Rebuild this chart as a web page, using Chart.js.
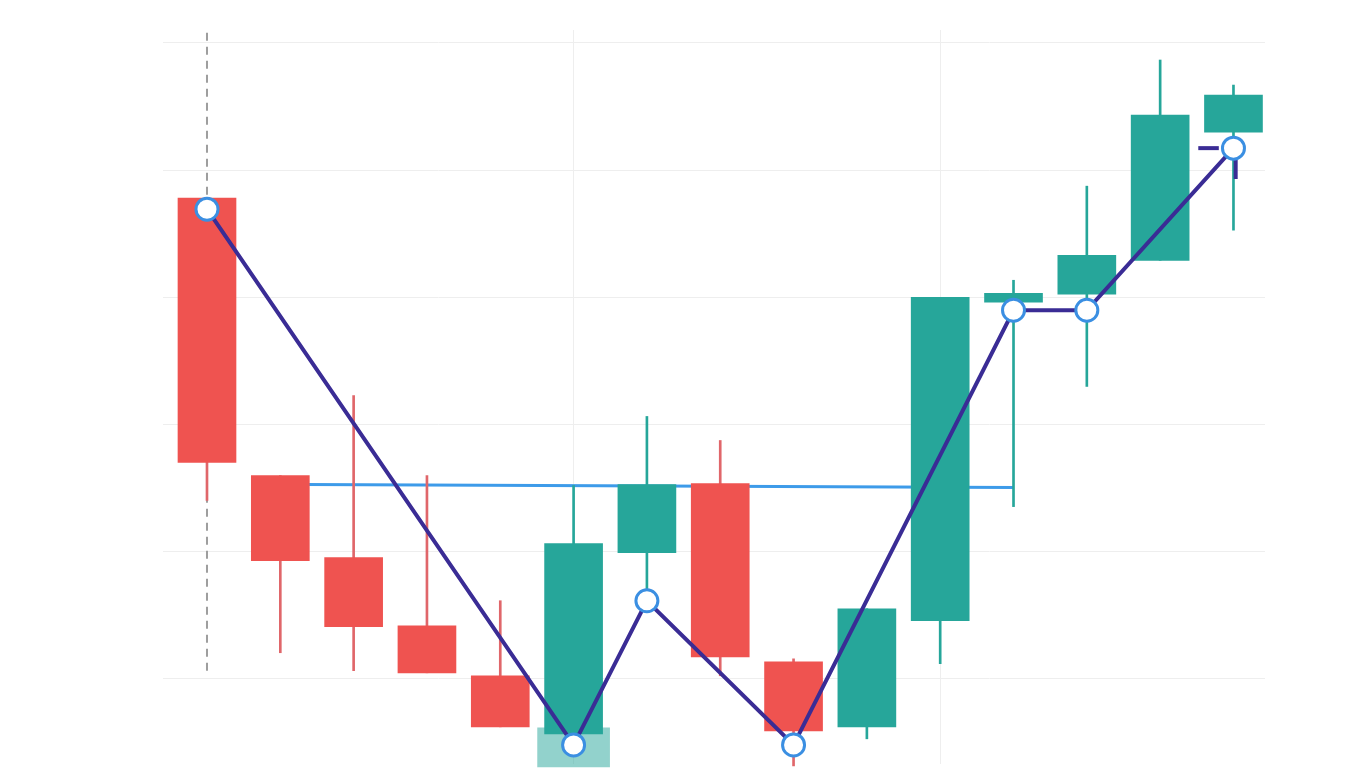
<!DOCTYPE html>
<html>
<head>
<meta charset="utf-8">
<script src="https://cdn.jsdelivr.net/npm/chart.js@4.4.1/dist/chart.umd.min.js"></script>
<style>html,body{margin:0;padding:0;background:#fff;}canvas{display:block;}</style>
</head>
<body>
<canvas id="c" width="1356" height="778"></canvas>
<script>
// Candle index positions
const candleIndex = [0,1,2,3,4,5,6,7,8,9,10,11,12,13,14];
const opens  = [37.8, 15.98, 9.53, 4.17, 0.24, -4.33, 9.92, 15.35, 1.34, -3.78, 4.57, 29.61, 30.24, 32.91, 42.99];
const closes = [17.01, 9.29, 4.09, 0.47, -3.78, 10.63, 15.28, 1.73, -4.09, 5.51, 30.0, 30.31, 33.31, 44.33, 45.91];
const highs  = [37.8, 15.98, 22.28, 15.98, 6.14, 15.2, 20.63, 18.74, 1.57, 5.51, 30.0, 31.34, 38.74, 48.66, 46.69];
const lows   = [14.02, 2.05, 0.63, 0.47, -3.78, -4.33, 6.14, 0.24, -6.85, -4.72, 1.18, 13.54, 22.99, 32.91, 35.28];
// Zigzag pattern points
const zigX = [0, 5, 6, 8, 11, 12, 14];
const zigY = [36.93, -5.2, 6.14, -5.2, 28.98, 28.98, 41.73];
// Neckline
const neckX = [1.34, 11.0];
const neckY = [15.28, 15.04];
// Highlight box at the first bottom
const boxX = 5;
const boxRange = [-6.93, -3.86];
// Dashed vertical marker
const dashX = 0;
const dashRange = [0.63, 51.0];
// Grid tick positions
const xGridTicks = [5, 10];
const yGridTicks = [0, 10, 20, 30, 40, 50];

const RED = '#ef5350', GREEN = '#26a69a';
const up = opens.map((o,i)=>closes[i] >= o);

const zigData = zigX.map((x,i)=>({x, y: zigY[i]}));
const bodyData = candleIndex.map((x,i)=>({x, y:[opens[i], closes[i]]}));
const wickData = candleIndex.map((x,i)=>({x, y:[lows[i], highs[i]]}));

new Chart(document.getElementById('c'), {
  type: 'bar',
  data: {
    datasets: [
      {
        type: 'line', data: zigData, borderColor: '#3a2c95', borderWidth: 4,
        pointRadius: 11, pointBorderWidth: 3, pointBorderColor: '#3b8fe2',
        pointBackgroundColor: '#ffffff', tension: 0, order: 0, clip: false
      },
      {
        type: 'line', data: [{x:13.52, y:41.73},{x:13.8, y:41.73}], borderColor: '#3a2c95',
        borderWidth: 4, pointRadius: 0, order: 1
      },
      {
        type: 'line', data: [{x:14.03, y:40.8},{x:14.03, y:39.3}], borderColor: '#3a2c95',
        borderWidth: 4, pointRadius: 0, order: 1
      },
      {
        data: bodyData, backgroundColor: up.map(u=>u?GREEN:RED),
        barThickness: 58, grouped: false, borderWidth: 0, order: 2, clip: false
      },
      {
        data: wickData, backgroundColor: up.map(u=>u?GREEN:'#e0666a'),
        barThickness: 2, grouped: false, borderWidth: 0, order: 3, clip: false
      },
      {
        type: 'line', data: neckX.map((x,i)=>({x, y: neckY[i]})), borderColor: '#3d9be9',
        borderWidth: 3, pointRadius: 0, order: 4
      },
      {
        data: [{x: boxX, y: boxRange}], backgroundColor: 'rgba(38,166,154,0.5)',
        barThickness: 72, grouped: false, borderWidth: 0, order: 5, clip: false
      },
      {
        type: 'line', data: [{x: dashX, y: dashRange[0]},{x: dashX, y: dashRange[1]}],
        borderColor: '#9e9e9e', borderWidth: 2, borderDash: [8,6], pointRadius: 0, order: 6
      }
    ]
  },
  options: {
    responsive: false, animation: false, devicePixelRatio: 1,
    layout: { padding: { left: 163, right: 91, top: 30, bottom: 8 } },
    plugins: { legend: { display: false }, tooltip: { enabled: false } },
    scales: {
      x: {
        type: 'linear', min: -0.6, max: 14.43, offset: false,
        afterBuildTicks: (s) => { s.ticks = xGridTicks.map(v=>({value: v})); },
        ticks: { display: false },
        grid: { color: '#eeeeee', drawTicks: false, lineWidth: 1, offset: false },
        border: { display: false }
      },
      y: {
        min: -6.7, max: 51.02,
        afterBuildTicks: (s) => { s.ticks = yGridTicks.map(v=>({value: v})); },
        ticks: { display: false },
        grid: { color: '#eeeeee', drawTicks: false, lineWidth: 1 },
        border: { display: false }
      }
    }
  }
});
</script>
</body>
</html>
